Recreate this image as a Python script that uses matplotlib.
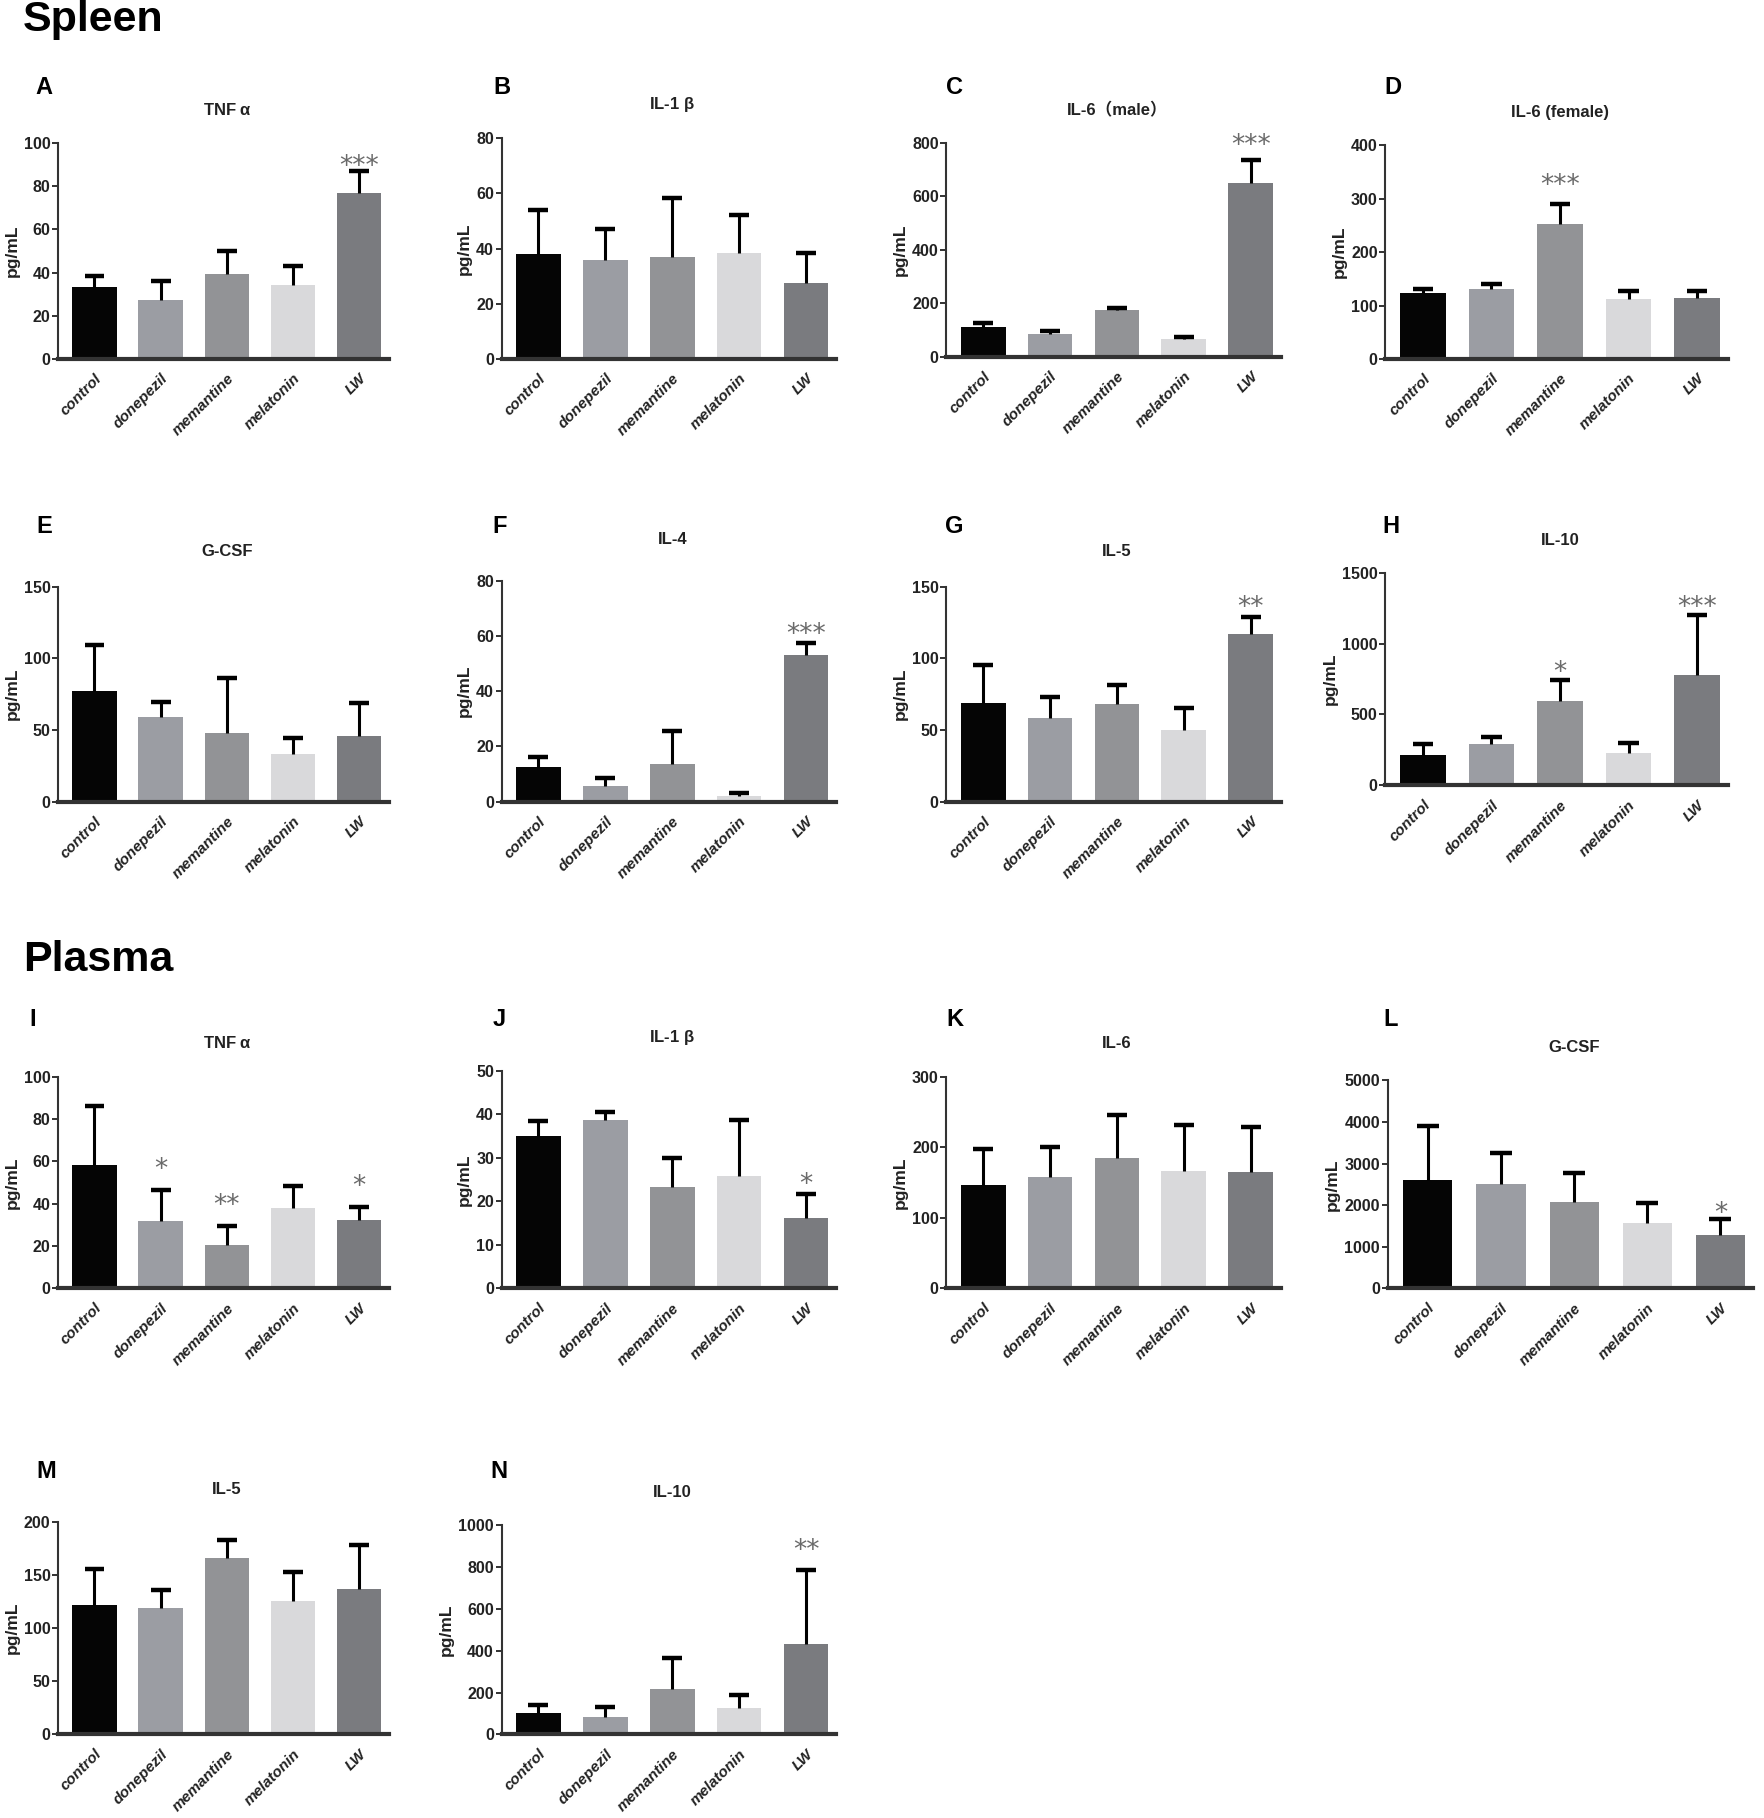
import numpy as np
import matplotlib
matplotlib.use("Agg")
import matplotlib.pyplot as plt

plt.rcParams["font.family"] = ["Liberation Sans", "Noto Sans CJK SC", "DejaVu Sans"]

groups = ["control", "donepezil", "memantine", "melatonin", "LW"]
bar_colors = ["#050505", "#9b9da3", "#929396", "#d9d9db", "#7a7b7f"]

# mean and top of the SD bar
tnf_spleen = [33.5, 27.5, 39.5, 34, 77]
tnf_spleen_top = [38.5, 36, 50, 43, 87]
il1b_spleen = [38, 36, 37, 38.5, 27.5]
il1b_spleen_top = [54, 47, 58.5, 52, 38.5]
il6m_spleen = [110, 85, 175, 65, 650]
il6m_spleen_top = [127, 97, 182, 73, 735]
il6f_spleen = [123, 131, 253, 113, 115]
il6f_spleen_top = [131, 141, 290, 127, 128]
gcsf_spleen = [77, 59, 47.5, 33.5, 45.5]
gcsf_spleen_top = [109, 69.5, 86.5, 44.5, 68.5]
il4_spleen = [12.5, 5.5, 13.5, 2, 53]
il4_spleen_top = [16, 8.5, 25.5, 3.2, 57.5]
il5_spleen = [69, 58, 68, 50, 117]
il5_spleen_top = [95, 73, 81, 65, 128.5]
il10_spleen = [215, 290, 595, 230, 780]
il10_spleen_top = [290, 340, 740, 300, 1200]

tnf_plasma = [58.5, 32, 20.5, 38, 32.5]
tnf_plasma_top = [86, 46.5, 29.5, 48.5, 38.5]
il1b_plasma = [35, 38.8, 23.3, 25.8, 16.2]
il1b_plasma_top = [38.5, 40.5, 30, 38.7, 21.6]
il6_plasma = [146, 158, 185, 167, 165]
il6_plasma_top = [198, 200, 246, 231, 229]
gcsf_plasma = [2600, 2500, 2080, 1560, 1280]
gcsf_plasma_top = [3900, 3260, 2770, 2060, 1660]
il5_plasma = [122, 119, 166, 125, 137]
il5_plasma_top = [156, 136, 183, 153, 178]
il10_plasma = [100, 85, 215, 125, 430]
il10_plasma_top = [140, 130, 365, 190, 785]

# significance marks per group ("" = none)
sig_A = ["", "", "", "", "***"]
sig_C = ["", "", "", "", "***"]
sig_D = ["", "", "***", "", ""]
sig_F = ["", "", "", "", "***"]
sig_G = ["", "", "", "", "**"]
sig_H = ["", "", "*", "", "***"]
sig_I = ["", "*", "**", "", "*"]
sig_J = ["", "", "", "", "*"]
sig_L = ["", "", "", "", "*"]
sig_N = ["", "", "", "", "**"]
no_sig = [""] * 5

# layout in reference pixel units (1520 x 1565 canvas)
W, H = 1520.0, 1565.0
panels = [
    # letter, title, means, tops, sigs, ymax, ystep, (left, bottom, right, top), title_y, letter_xy, star_gap
    ("A", "TNF $\\mathregular{α}$", tnf_spleen, tnf_spleen_top, sig_A, 100, 20, (50, 309, 335, 123), 95, (38, 75), -2),
    ("B", "IL-1 $\\mathregular{β}$", il1b_spleen, il1b_spleen_top, no_sig, 80, 20, (432, 309, 720, 119), 90, (432, 75), 0),
    ("C", "IL-6（male）", il6m_spleen, il6m_spleen_top, sig_C, 800, 200, (815, 307, 1103, 123), 95, (822, 75), 5),
    ("D", "IL-6 (female)", il6f_spleen, il6f_spleen_top, sig_D, 400, 100, (1193, 309, 1488, 125), 97, (1200, 75), 8),
    ("E", "G-CSF", gcsf_spleen, gcsf_spleen_top, no_sig, 150, 50, (50, 690, 335, 505), 475, (38, 453), 0),
    ("F", "IL-4", il4_spleen, il4_spleen_top, sig_F, 80, 20, (432, 690, 720, 500), 464, (430, 453), 1),
    ("G", "IL-5", il5_spleen, il5_spleen_top, sig_G, 150, 50, (815, 690, 1103, 505), 475, (822, 453), 1.5),
    ("H", "IL-10", il10_spleen, il10_spleen_top, sig_H, 1500, 500, (1193, 676, 1488, 493), 465, (1198, 453), 0),
    ("I", "TNF $\\mathregular{α}$", tnf_plasma, tnf_plasma_top, sig_I, 100, 20, (50, 1109, 335, 927), 898, (28, 878), 9),
    ("J", "IL-1 $\\mathregular{β}$", il1b_plasma, il1b_plasma_top, sig_J, 50, 10, (432, 1109, 720, 922), 893, (430, 878), 1.5),
    ("K", "IL-6", il6_plasma, il6_plasma_top, no_sig, 300, 100, (815, 1109, 1103, 927), 898, (822, 878), 0),
    ("L", "G-CSF", gcsf_plasma, gcsf_plasma_top, sig_L, 5000, 1000, (1195, 1109, 1510, 930), 902, (1198, 878), -1),
    ("M", "IL-5", il5_plasma, il5_plasma_top, no_sig, 200, 50, (50, 1493, 335, 1310), 1282, (40, 1267), 0),
    ("N", "IL-10", il10_plasma, il10_plasma_top, sig_N, 1000, 200, (432, 1493, 720, 1313), 1285, (430, 1267), 9),
]

fig = plt.figure(figsize=(17.65, 18.18), dpi=100)

fig.text(20 / W, 1 - 17 / H, "Spleen", fontsize=31, fontweight="bold", ha="left", va="center")
fig.text(20 / W, 1 - 826 / H, "Plasma", fontsize=31, fontweight="bold", ha="left", va="center")

x = np.arange(len(groups))
for (letter, title, means, tops, sigs, ymax, ystep, box, title_y, lxy, gap) in panels:
    l, b, r, t = box
    ax = fig.add_axes([l / W, 1 - b / H, (r - l) / W, (b - t) / H])
    means = np.array(means, dtype=float)
    tops = np.array(tops, dtype=float)

    ax.bar(x, means, width=0.67, color=bar_colors, edgecolor="none", zorder=2)
    ax.vlines(x, means, tops, colors="black", linewidth=2.2, zorder=3)
    ax.hlines(tops, x - 0.15, x + 0.15, colors="black", linewidth=3.2, zorder=3)

    for xi, top, s in zip(x, tops, sigs):
        if s:
            ax.annotate(s, (xi, top), xytext=(0, gap), textcoords="offset points",
                        ha="center", va="baseline", fontsize=19, color="#6a6a6a",
                        family="DejaVu Sans")

    ax.set_xlim(-0.55, 4.45)
    ax.set_ylim(0, ymax)
    ax.set_yticks(np.arange(0, ymax + ystep / 2, ystep))
    ax.set_xticks(x)
    ax.set_xticklabels(groups, rotation=45, ha="right", va="top", rotation_mode="anchor",
                       fontsize=11, fontweight="bold", fontstyle="italic", color="#222222")
    for lab in ax.get_yticklabels():
        lab.set_fontweight("bold")
    ax.tick_params(axis="y", labelsize=11.5, length=4, width=1.3, pad=1.5, colors="#222222")
    ax.tick_params(axis="x", length=0, pad=9)
    ax.set_ylabel("pg/mL", fontsize=12.5, fontweight="bold", labelpad=3, color="#222222")

    for side in ("top", "right"):
        ax.spines[side].set_visible(False)
    ax.spines["left"].set_linewidth(1.5)
    ax.spines["left"].set_color("#333333")
    ax.spines["bottom"].set_linewidth(3)
    ax.spines["bottom"].set_color("#333333")
    ax.patch.set_alpha(0)

    fig.text((l + r) / 2 / W + 3 / W, 1 - title_y / H, title, fontsize=12, fontweight="bold",
             ha="center", va="center", color="#222222")
    fig.text(lxy[0] / W, 1 - lxy[1] / H, letter, fontsize=17, fontweight="bold",
             ha="center", va="center")

fig.savefig("out.png", dpi=100, facecolor="white")
